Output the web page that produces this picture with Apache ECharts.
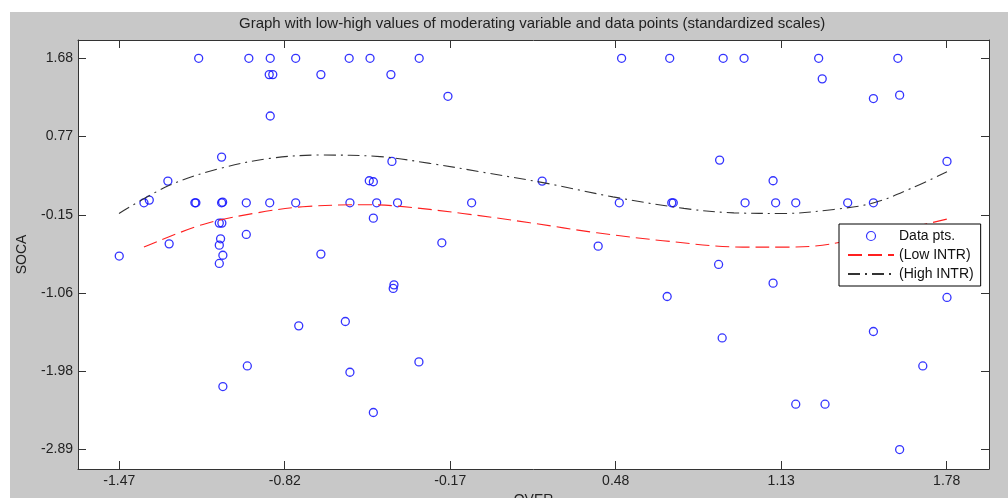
<!DOCTYPE html>
<html>
<head>
<meta charset="utf-8">
<script src="https://cdn.jsdelivr.net/npm/echarts@6/dist/echarts.min.js"></script>
<style>
  html, body { margin: 0; padding: 0; background: #fff; }
  #chart { width: 1008px; height: 498px; }
</style>
</head>
<body>
<div id="chart"></div>
<script>
// tick marks (labels are rounded like the original)
var xTicks = [-1.47, -0.82, -0.17, 0.48, 1.13, 1.78];
var xTickLabels = ['-1.47', '-0.82', '-0.17', '0.48', '1.13', '1.78'];
var yTicks = [1.68, 0.766, -0.148, -1.062, -1.976, -2.89];
var yTickLabels = ['1.68', '0.77', '-0.15', '-1.06', '-1.98', '-2.89'];

// data points (OVER, SOCA)
var overVals = [
  -1.158, -0.961, -0.877, -0.777, -0.567, -0.485, -0.292, 0.503, 0.692, 0.902, 0.984, 1.277, 1.588,
  -0.881, -0.867, -0.678, -0.403, 1.291, -0.179, 1.595, 1.492, -0.877,
  -1.068, 0.888, -0.399, 1.781, -1.279, -0.488, -0.472, 0.191, 1.098,
  -1.352, -1.373, -1.173, -1.169, -1.068, -1.064, -0.971, -0.879, -0.777, -0.564, -0.459, -0.377,
  -0.086, 0.494, 0.700, 0.706, 0.988, 1.108, 1.187, 1.391, 1.492,
  -0.472, -1.077, -1.067, -0.971, -1.072, -0.203, -1.274, -1.077, 0.411, -1.063, -1.470, -0.678,
  -1.077, 0.884, 1.098, -0.391, -0.394, 0.682, 1.781, -0.582, -0.765, 1.492, 0.898,
  -0.293, -0.967, 1.686, -0.564, -1.063, 1.187, 1.302, -0.472, 1.595
];
var socaVals = [
  1.68, 1.68, 1.68, 1.68, 1.68, 1.68, 1.68, 1.68, 1.68, 1.68, 1.68, 1.68, 1.68,
  1.49, 1.49, 1.49, 1.49, 1.44, 1.236, 1.25, 1.21, 1.006,
  0.526, 0.491, 0.476, 0.476, 0.246, 0.25, 0.238, 0.246, 0.25,
  0.024, -0.008, -0.008, -0.008, -0.008, 0.0, -0.008, -0.008, -0.008, -0.008, -0.008, -0.008,
  -0.008, -0.008, -0.008, -0.008, -0.008, -0.008, -0.008, -0.008, -0.008,
  -0.187, -0.245, -0.245, -0.377, -0.428, -0.475, -0.487, -0.502, -0.514, -0.62, -0.63, -0.607,
  -0.716, -0.728, -0.946, -0.966, -1.008, -1.102, -1.113, -1.394, -1.445, -1.511, -1.586,
  -1.866, -1.913, -1.913, -1.987, -2.154, -2.36, -2.36, -2.457, -2.89
];

// fitted lines
var lowX = [-1.373, -1.141, -0.929, -0.749, -0.50, -0.38, -0.121, 0.143, 0.406, 0.665, 0.979, 1.14, 1.321, 1.781];
var lowY = [-0.525, -0.26, -0.125, -0.054, -0.03, -0.045, -0.132, -0.241, -0.358, -0.45, -0.525, -0.525, -0.49, -0.198];
var highX = [-1.471, -1.271, -1.074, -0.878, -0.682, -0.446, -0.25, -0.053, 0.21, 0.469, 0.748, 0.944, 1.141, 1.337, 1.494, 1.64, 1.781];
var highY = [-0.132, 0.199, 0.394, 0.511, 0.55, 0.532, 0.453, 0.355, 0.219, 0.062, -0.073, -0.125, -0.132, -0.085, -0.008, 0.161, 0.355];

var font = 'Arial, "Liberation Sans", sans-serif';
var axisColor = '#333';

function zip(a, b) {
  return a.map(function (v, i) { return [v, b[i]]; });
}
function xLabel(v) {
  var i = xTicks.indexOf(v);
  return i >= 0 ? xTickLabels[i] : '';
}
function yLabel(v) {
  var i = yTicks.indexOf(v);
  return i >= 0 ? yTickLabels[i] : '';
}

var chart = echarts.init(document.getElementById('chart'));

var option = {
  animation: false,
  backgroundColor: '#c8c8c8',
  textStyle: { fontFamily: font },
  graphic: [
    { type: 'rect', shape: { x: 0, y: 0, width: 1008, height: 12 }, style: { fill: '#fff' }, silent: true },
    { type: 'rect', shape: { x: 0, y: 0, width: 10, height: 498 }, style: { fill: '#fff' }, silent: true }
  ],
  title: {
    text: 'Graph with low-high values of moderating variable and data points (standardized scales)',
    left: 239,
    top: 16,
    padding: 0,
    textStyle: { fontSize: 15, fontWeight: 'normal', color: '#222', fontFamily: font }
  },
  grid: {
    left: 78, top: 40, width: 911, height: 429,
    outerBoundsMode: 'none',
    containLabel: false,
    show: true, backgroundColor: '#fff', borderWidth: 0
  },
  legend: {
    orient: 'vertical',
    left: 839,
    top: 224,
    padding: [5, 7, 5, 8],
    itemGap: 5,
    itemWidth: 46,
    itemHeight: 9,
    backgroundColor: '#fff',
    borderColor: '#000',
    borderWidth: 1,
    textStyle: { fontSize: 14, color: '#111', fontFamily: font },
    data: [
      { name: 'Data pts.', itemStyle: { borderWidth: 1.2 } },
      { name: '(Low INTR)', itemStyle: { opacity: 0 } },
      { name: '(High INTR)', itemStyle: { opacity: 0 } }
    ]
  },
  xAxis: [{
    type: 'value',
    min: -1.632, max: 1.946,
    name: 'OVER', nameLocation: 'middle', nameGap: 22,
    nameTextStyle: { fontSize: 14, color: '#222', verticalAlign: 'top' },
    axisLine: { onZero: false, lineStyle: { color: axisColor, width: 1 } },
    axisTick: { inside: true, length: 8, customValues: xTicks, lineStyle: { color: axisColor } },
    axisLabel: { customValues: xTicks, formatter: xLabel, margin: 5, fontSize: 14, color: '#222' },
    splitLine: { show: false }
  }, {
    type: 'value', position: 'top',
    min: -1.632, max: 1.946,
    axisLine: { onZero: false, lineStyle: { color: axisColor, width: 1 } },
    axisTick: { inside: true, length: 8, customValues: xTicks, lineStyle: { color: axisColor } },
    axisLabel: { show: false },
    splitLine: { show: false }
  }],
  yAxis: [{
    type: 'value',
    min: -3.117, max: 1.894,
    name: 'SOCA', nameLocation: 'middle', nameGap: 49, nameRotate: 90,
    nameTextStyle: { fontSize: 14, color: '#222' },
    axisLine: { onZero: false, lineStyle: { color: axisColor, width: 1 } },
    axisTick: { inside: true, length: 8, customValues: yTicks, lineStyle: { color: axisColor } },
    axisLabel: { customValues: yTicks, formatter: yLabel, margin: 5, fontSize: 14, color: '#222' },
    splitLine: { show: false }
  }, {
    type: 'value', position: 'right',
    min: -3.117, max: 1.894,
    axisLine: { onZero: false, lineStyle: { color: axisColor, width: 1 } },
    axisTick: { inside: true, length: 8, customValues: yTicks, lineStyle: { color: axisColor } },
    axisLabel: { show: false },
    splitLine: { show: false }
  }],
  series: [{
    name: 'Data pts.',
    type: 'scatter',
    symbol: 'circle',
    symbolSize: 8,
    itemStyle: { color: 'rgba(0,0,0,0)', borderColor: '#0000ff', borderWidth: 1.3 },
    data: zip(overVals, socaVals)
  }, {
    name: '(Low INTR)',
    type: 'line',
    smooth: 0.35,
    symbol: 'none',
    lineStyle: { color: '#ff2020', width: 1.1, type: [14, 6] },
    itemStyle: { color: '#ff2020' },
    data: zip(lowX, lowY)
  }, {
    name: '(High INTR)',
    type: 'line',
    smooth: 0.35,
    symbol: 'none',
    lineStyle: { color: '#333', width: 1.1, type: [12, 5, 2, 5] },
    itemStyle: { color: '#333' },
    data: zip(highX, highY)
  }]
};

chart.setOption(option);
</script>
</body>
</html>
